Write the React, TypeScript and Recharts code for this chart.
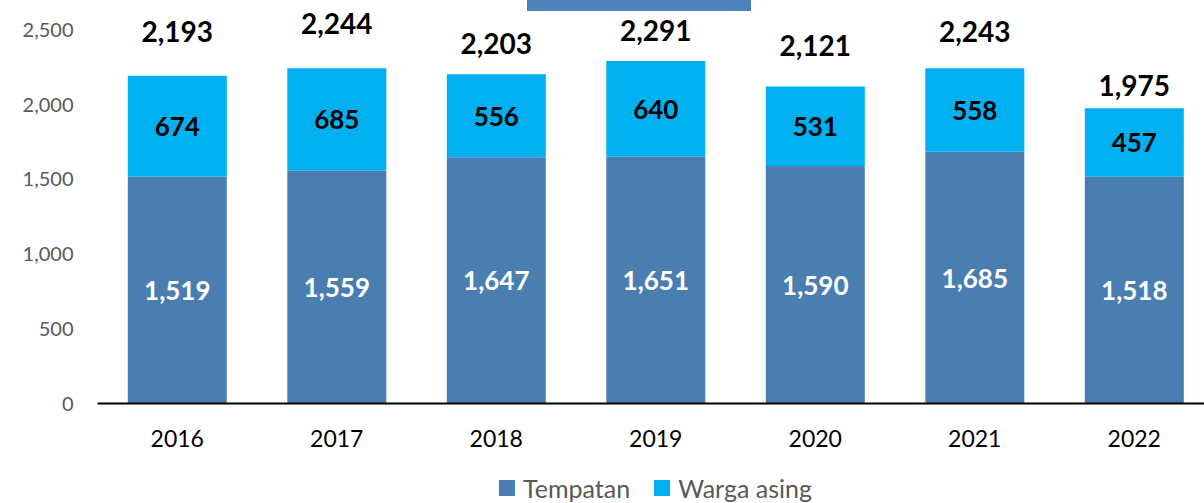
import React from 'react';
import { BarChart, Bar, XAxis, YAxis, Legend, LabelList } from 'recharts';

const years = ['2016', '2017', '2018', '2019', '2020', '2021', '2022'];
const tempatan = [1519, 1559, 1647, 1651, 1590, 1685, 1518];
const wargaAsing = [674, 685, 556, 640, 531, 558, 457];
const totals = [2193, 2244, 2203, 2291, 2121, 2243, 1975];
const yTicks = [0, 500, 1000, 1500, 2000, 2500];

// pixel gap between each bar top and the centre of its total label
const totalLabelGaps = [45, 45, 31, 31, 42, 37, 23];

const DARK = '#4A7EB0';
const LIGHT = '#00B0F0';
const FONT = 'Lato, "Noto Sans", sans-serif';

const data = years.map((y, i) => ({
  year: y,
  tempatan: tempatan[i],
  wargaAsing: wargaAsing[i],
  total: totals[i],
}));

const fmt = (v: number) => Number(v).toLocaleString('en-US');

const InnerLabel = (color: string, size: number) => (props: any) => {
  const { x, y, width, height, value } = props;
  return (
    <text
      x={x + width / 2}
      y={y + height / 2}
      fill={color}
      fontSize={size}
      fontWeight={700}
      fontFamily={FONT}
      textAnchor="middle"
      dominantBaseline="central"
    >
      {fmt(value)}
    </text>
  );
};

const TotalLabel = (props: any) => {
  const { x, y, width, index } = props;
  return (
    <text
      x={x + width / 2}
      y={y - totalLabelGaps[index]}
      fill="#000"
      fontSize={28}
      fontWeight={700}
      fontFamily={FONT}
      textAnchor="middle"
      dominantBaseline="central"
    >
      {fmt(totals[index])}
    </text>
  );
};

const renderLegend = () => (
  <div
    style={{
      height: 30,
      display: 'flex',
      alignItems: 'center',
      justifyContent: 'center',
      paddingLeft: 97,
      paddingRight: 2,
      boxSizing: 'border-box',
      fontFamily: FONT,
      fontSize: 25,
      color: '#595959',
    }}
  >
    <div style={{ display: 'flex', alignItems: 'center', marginRight: 24 }}>
      <span style={{ width: 16, height: 16, background: DARK, display: 'inline-block', marginRight: 8 }} />
      <span>Tempatan</span>
    </div>
    <div style={{ display: 'flex', alignItems: 'center' }}>
      <span style={{ width: 16, height: 16, background: LIGHT, display: 'inline-block', marginRight: 8 }} />
      <span>Warga asing</span>
    </div>
  </div>
);

export default function App() {
  return (
    <div
      style={{
        position: 'fixed',
        left: 0,
        top: 0,
        width: 1204,
        height: 503,
        overflow: 'hidden',
        background: '#fff',
        fontFamily: FONT,
      }}
    >
      <BarChart
        width={1216}
        height={503}
        data={data}
        margin={{ top: 0, right: 2, bottom: 0, left: 0 }}
        barCategoryGap="19%"
      >
        <XAxis
          dataKey="year"
          axisLine={{ stroke: '#000', strokeWidth: 2 }}
          tickLine={false}
          tickSize={0}
          tickMargin={27}
          height={69.5}
          tick={{ fill: '#000', fontSize: 23, fontFamily: FONT }}
        />
        <YAxis
          domain={[0, 2700]}
          ticks={yTicks}
          width={97.5}
          axisLine={false}
          tickLine={false}
          tickSize={0}
          tickMargin={24}
          tickFormatter={fmt}
          tick={{ fill: '#595959', fontSize: 20, fontFamily: FONT }}
        />
        <Legend verticalAlign="bottom" content={renderLegend} wrapperStyle={{ left: 0, width: 1216 }} />
        <Bar dataKey="tempatan" stackId="a" fill={DARK} isAnimationActive={false}>
          <LabelList dataKey="tempatan" content={InnerLabel('#fff', 26)} />
        </Bar>
        <Bar dataKey="wargaAsing" stackId="a" fill={LIGHT} isAnimationActive={false}>
          <LabelList dataKey="wargaAsing" content={InnerLabel('#000', 26)} />
          <LabelList dataKey="total" content={TotalLabel} />
        </Bar>
      </BarChart>
      <div
        style={{
          position: 'absolute',
          left: 527,
          top: 0,
          width: 224,
          height: 11,
          background: '#4F81BD',
        }}
      />
    </div>
  );
}
